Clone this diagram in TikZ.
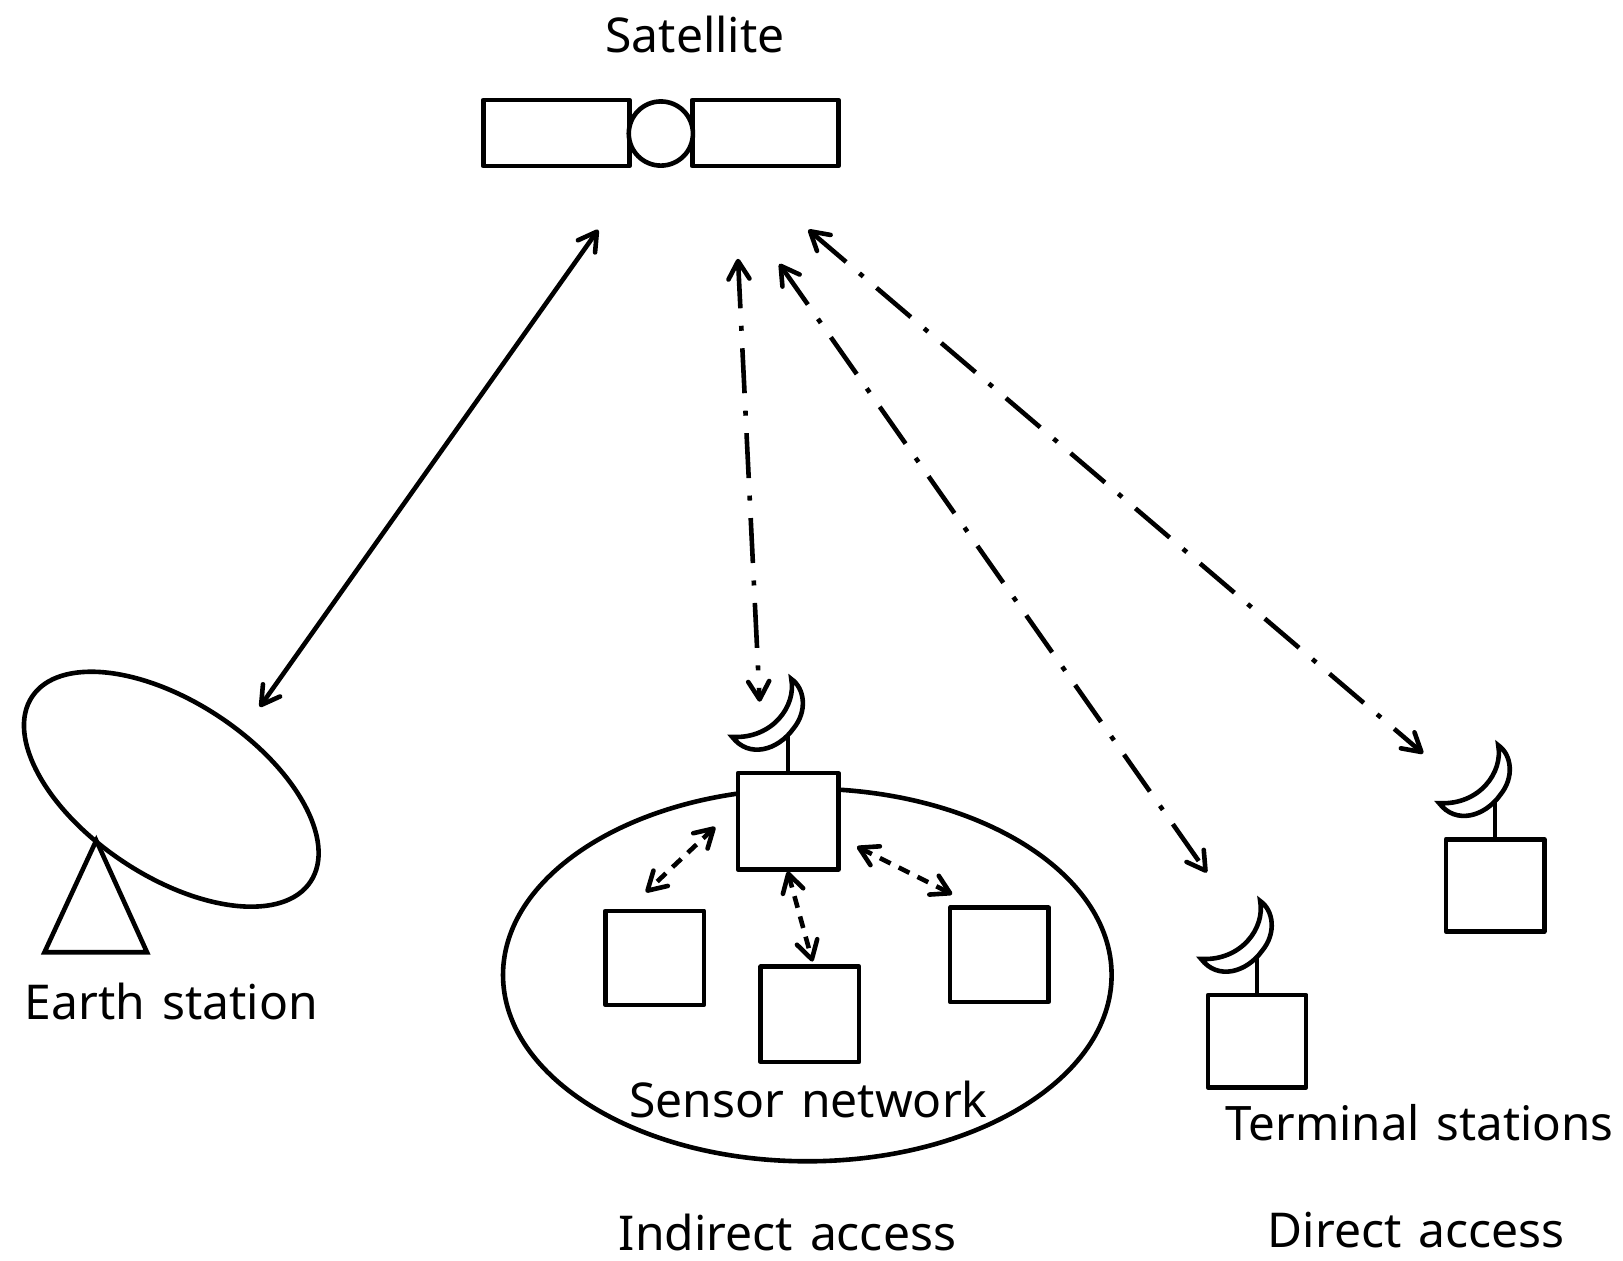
\documentclass[tikz,border=0pt]{standalone}
\usepackage{fontspec}
\setmainfont[WordSpace=1.36]{Noto Sans}
\usetikzlibrary{arrows.meta,shapes.geometric}
\tikzset{
  every node/.style={inner sep=0pt,outer sep=0pt},
  ln/.style={line width=4.6pt,line cap=butt,line join=miter},
  barb/.tip={Straight Barb[length=18pt,width=21pt,line width=4.6pt,round]},
  tipp/.style={{barb}-{barb}},
  box/.style={draw,fill=white,rectangle,ln,line join=round,minimum width=#1*1.035pt},
  boxh/.style={minimum height=#1*1.035pt},
  solidlink/.style={ln,tipp},
  wlink/.style={ln,tipp,dash pattern=on 45pt off 17.5pt on 5pt off 17.5pt},
  dlink/.style={ln,tipp,dash pattern=on 12pt off 9pt},
  lab/.style={anchor=base west,font=\fontsize{48}{48}\selectfont,text=black},
  pics/dish/.style={code={
    \draw[ln] (0,0) -- (0,-41);
    \draw[ln,fill=white,miter limit=20] (3,-91) .. controls (16,-82) and (19,-60) .. (5,-43) .. controls (-10,-22) and (-38,-14) .. (-54,-35) .. controls (-15,-33) and (8,-65) .. (3,-91) -- cycle;
  }}
}
\begin{document}
\begin{tikzpicture}[x=1.035pt,y=-1.035pt]
\useasboundingbox (0,0) rectangle (1568.1,1217.4);
% satellite
\node[box=141,boxh=64] (panelL) at (537.5,128.5) {};
\node[box=141,boxh=64] (panelR) at (739.5,128.5) {};
\node[draw,ln,fill=white,circle,minimum size=62*1.035pt] (body) at (638.5,129) {};
\node[lab] (tsat) at (585,51) {Satellite};
% earth station
\draw[ln,line join=miter] (93,812) coordinate (apex) -- (43,920) coordinate (tl) -- (142,920) coordinate (tr) -- cycle;
\node[draw,ln,fill=none,ellipse,minimum width=323*1.035pt,minimum height=168*1.035pt,rotate=-33.6] (earth) at (165.5,762.5) {};
\node[lab] (tearth) at (24,985) {Earth station};
% sensor network
\node[draw,ln,ellipse,minimum width=588*1.035pt,minimum height=360*1.035pt] (net) at (780,942) {};
\node[box=97,boxh=93] (hub) at (761.5,793.5) {};
\node[box=95,boxh=91] (s1) at (632.5,925.5) {};
\node[box=95,boxh=92] (s2) at (782.5,980) {};
\node[box=95,boxh=91] (s3) at (965.5,922.5) {};
\node[lab] (tnet) at (608,1080) {Sensor network};
\path (hub.north) pic {dish};
% terminals
\node[box=95,boxh=89] (t1) at (1214.5,1006) {};
\node[box=95,boxh=89] (t2) at (1444.5,855.5) {};
\path (t1.north) pic {dish};
\path (t2.north) pic {dish};
\node[lab,font=\fontsize{47.5}{48}\selectfont] (tterm) at (1184,1102) {Terminal stations};
\node[lab] (tind) at (598,1208.5) {Indirect access};
\node[lab] (tdir) at (1225,1205.5) {Direct access};
% link ends
\coordinate (e0) at (578,222);
\coordinate (e1) at (251,683);
\coordinate (a0) at (713,250);
\coordinate (a1) at (734,678);
\coordinate (b0) at (753,255);
\coordinate (b1) at (1166,843);
\coordinate (c0) at (781,222);
\coordinate (c1) at (1375,728);
\coordinate (d0) at (691,799);
\coordinate (d1) at (624,862);
\coordinate (f0) at (761,842);
\coordinate (f1) at (785,929);
\coordinate (g0) at (828,818);
\coordinate (g1) at (920,864);
\draw[solidlink] (e0) -- (e1);
\draw[wlink] (a0) -- (a1);
\draw[wlink] (b0) -- (b1);
\draw[wlink] (c0) -- (c1);
\draw[dlink] (d0) -- (d1);
\draw[dlink] (f0) -- (f1);
\draw[dlink] (g0) -- (g1);
\end{tikzpicture}
\end{document}
